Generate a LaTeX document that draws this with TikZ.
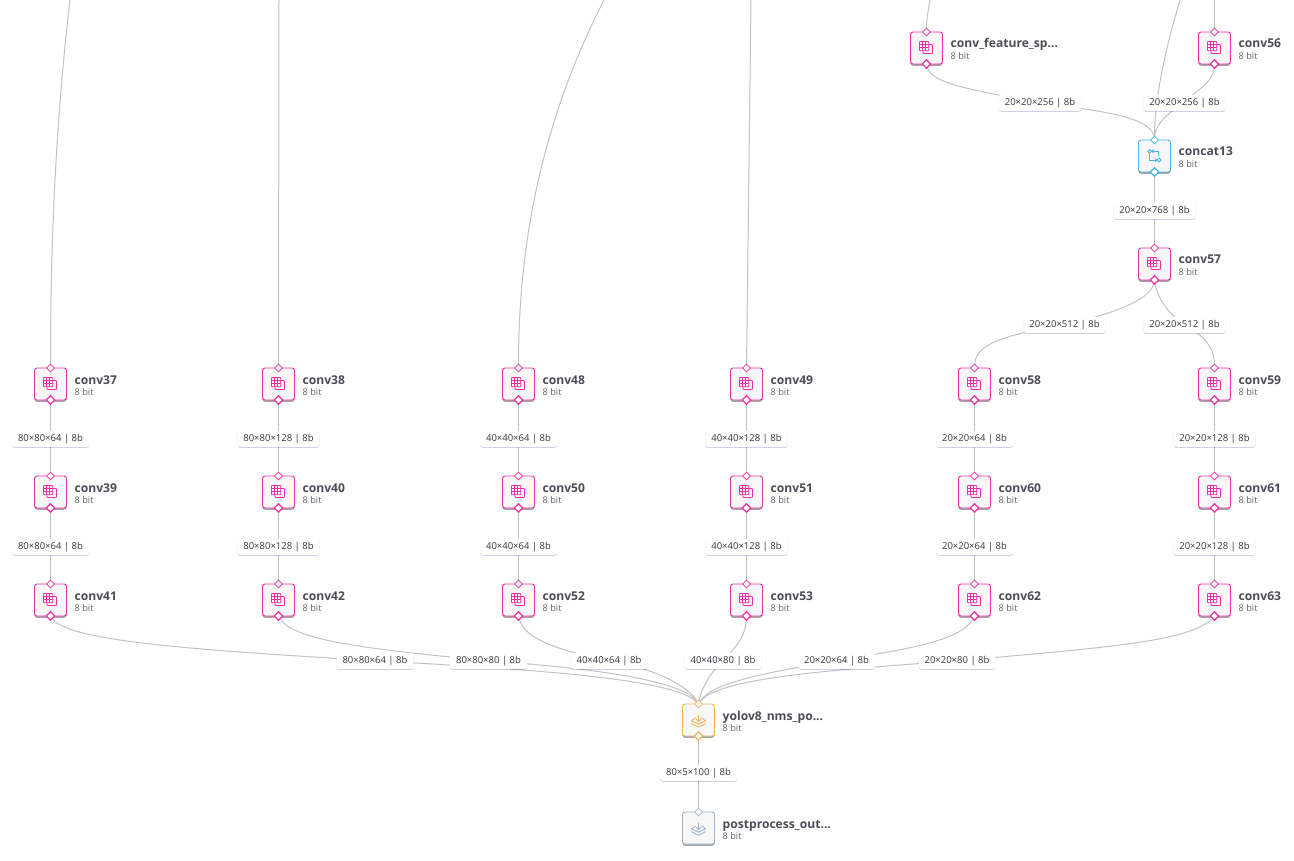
\documentclass[tikz,border=0pt]{standalone}
\usepackage{fontspec}
\setmainfont{Open Sans}
\usetikzlibrary{shapes.geometric,shadows,backgrounds}

\definecolor{convpink}{HTML}{EC2FA8}
\definecolor{concatblue}{HTML}{45B6E0}
\definecolor{nmsorange}{HTML}{F4B266}
\definecolor{outslate}{HTML}{9FB4D0}
\definecolor{wirecol}{HTML}{C2C2C2}
\definecolor{boxfill}{HTML}{F7F7F8}
\definecolor{nametext}{HTML}{4C4C56}
\definecolor{bittext}{HTML}{62626C}
\definecolor{dimtext}{HTML}{34343C}

\newcommand{\featname}{conv\_feature\_sp...}

\tikzset{
  unit/.style={draw=#1,fill=boxfill,line width=.9pt,rounded corners=2.5pt,minimum size=32pt,inner sep=0pt,
    drop shadow={shadow xshift=0pt,shadow yshift=-1.8pt,fill=black,opacity=.35}},
  port_in/.style={diamond,draw=#1,fill=white,line width=.8pt,minimum size=8pt,inner sep=0pt},
  port_out/.style={diamond,draw=#1,fill=white,line width=1.2pt,minimum size=9pt,inner sep=0pt},
  unit_name/.style={anchor=base west,inner sep=0pt,font=\fontsize{12.1}{13}\selectfont\bfseries,text=nametext},
  unit_bit/.style={anchor=west,inner sep=0pt,font=\fontsize{9.2}{10}\selectfont,text=bittext},
  dim/.style={fill=white,rounded corners=2.5pt,inner xsep=6pt,inner ysep=0pt,minimum height=16pt,yshift=-.8pt,
    font=\fontsize{9.5}{10}\selectfont,text=dimtext,
    drop shadow={shadow xshift=0pt,shadow yshift=-1pt,fill=black!60!blue,opacity=.18}},
  wire/.style={draw=wirecol,line width=1pt},
  convicon/.pic={
    \draw[convpink,line width=.8pt,rounded corners=.8pt] (-7,-6.5) rectangle (2.3,2.8);
    \draw[convpink,line width=.6pt] (-4,-6.5) -- (-4,2.8) (-1,-6.5) -- (-1,2.8) (-7,-3.5) -- (2.3,-3.5) (-7,-.5) -- (2.3,-.5);
    \draw[convpink,line width=.8pt,rounded corners=.8pt] (2.3,-3.5) -- (6,-3.5) -- (6,5.5) -- (-3.5,5.5) -- (-3.5,2.8);
  },
  concaticon/.pic={
    \draw[concatblue,line width=.9pt] (-4.8,-4.7) circle[radius=1.8] (4.6,4) circle[radius=1.8];
    \draw[concatblue,line width=.9pt] (-2.5,-4.7) -- (3.5,-4.7) -- (3.5,.5) (-4.8,-2.5) -- (-4.8,4) -- (2.3,4);
    \draw[concatblue,line width=.9pt] (-.8,-6.4) -- (-2.5,-4.7) -- (-.8,-3) (.6,2.3) -- (2.3,4) -- (.6,5.7);
  },
  layericon/.pic={
    \draw[#1,line width=.9pt] (0,-5.5) -- (0,1.5) (-2.2,-.8) -- (0,1.5) -- (2.2,-.8);
    \draw[#1,line width=.9pt] (-2.8,-2.2) -- (-7,.8) -- (0,4.2) -- (7,.8) -- (2.8,-2.2);
    \draw[#1,line width=.9pt] (-7,3.6) -- (0,7.2) -- (7,3.6);
  },
}

\begin{document}
\begin{tikzpicture}[x=1pt,y=-1pt]
  \useasboundingbox (0,0) rectangle (1294,861);

  % the conv units
  \foreach \Name/\Text/\X/\Y in {conva/conv37/50.5/384, convb/conv38/278.5/384, convc/conv48/518.5/384,
      convd/conv49/746.5/384, conve/conv58/974.5/384, convf/conv59/1214.5/384,
      convg/conv39/50.5/492, convh/conv40/278.5/492, convi/conv50/518.5/492,
      convj/conv51/746.5/492, convk/conv60/974.5/492, convl/conv61/1214.5/492,
      convm/conv41/50.5/600, convn/conv42/278.5/600, convo/conv52/518.5/600,
      convp/conv53/746.5/600, convq/conv62/974.5/600, convr/conv63/1214.5/600,
      convfeat/\featname/926.5/48, convs/conv56/1214.5/48, convt/conv57/1154.5/264}{
    \node[unit=convpink] (\Name) at (\X,\Y) {};
    \pic at (\X,\Y) {convicon};
    \node[port_in=convpink] (\Name_top) at (\X,\Y-16) {};
    \node[port_out=convpink] (\Name_bot) at (\X,\Y+16) {};
    \node[unit_name] (\Name_name) at (\X+24,\Y) {\Text};
    \node[unit_bit] (\Name_bit) at (\X+24,\Y+8) {8 bit};
  }

  % the other units
  \node[unit=concatblue] (concat) at (1154.5,156) {};
  \pic at (1154.5,156) {concaticon};
  \node[port_in=concatblue] (concat_top) at (1154.5,140) {};
  \node[port_out=concatblue] (concat_bot) at (1154.5,172) {};
  \node[unit_name] (concat_name) at (1178.5,156) {concat13};
  \node[unit_bit] (concat_bit) at (1178.5,164) {8 bit};

  \node[unit=nmsorange] (nms) at (698.5,720) {};
  \pic at (698.5,720) {layericon=nmsorange};
  \node[port_in=nmsorange] (nms_top) at (698.5,704) {};
  \node[port_out=nmsorange] (nms_bot) at (698.5,736) {};
  \node[unit_name] (nms_name) at (722.5,720) {yolov8\_nms\_po...};
  \node[unit_bit] (nms_bit) at (722.5,728) {8 bit};

  \node[unit=outslate] (post) at (698.5,828) {};
  \pic at (698.5,828) {layericon=outslate};
  \node[port_in=outslate] (post_top) at (698.5,812) {};
  \node[unit_name] (post_name) at (722.5,828) {postprocess\_out...};
  \node[unit_bit] (post_bit) at (722.5,836) {8 bit};

  % straight edges with their labels
  \foreach \From/\To/\X/\Y/\Text in {conva/convg/50.5/438/80×80×64, convg/convm/50.5/546/80×80×64,
      convb/convh/278.5/438/80×80×128, convh/convn/278.5/546/80×80×128,
      convc/convi/518.5/438/40×40×64, convi/convo/518.5/546/40×40×64,
      convd/convj/746.5/438/40×40×128, convj/convp/746.5/546/40×40×128,
      conve/convk/974.5/438/20×20×64, convk/convq/974.5/546/20×20×64,
      convf/convl/1214.5/438/20×20×128, convl/convr/1214.5/546/20×20×128,
      concat/convt/1154.5/210/20×20×768, nms/post/698.5/772/80×5×100}{
    \node[dim] (\From_dim) at (\X,\Y) {\Text{} | 8b};
    \begin{pgfonlayer}{background}
      \draw[wire] (\From_bot) -- (\To_top);
    \end{pgfonlayer}
  }

  % labels on the curved edges
  \node[dim] (featdim) at (1040,102) {20×20×256 | 8b};
  \node[dim] (sdim) at (1184.5,102) {20×20×256 | 8b};
  \node[dim] (tedim) at (1064.5,324) {20×20×512 | 8b};
  \node[dim] (tfdim) at (1184.5,324) {20×20×512 | 8b};
  \node[dim] (mdim) at (375,660) {80×80×64 | 8b};
  \node[dim] (ndim) at (488.5,660) {80×80×80 | 8b};
  \node[dim] (odim) at (609,660) {40×40×64 | 8b};
  \node[dim] (pdim) at (723,660) {40×40×80 | 8b};
  \node[dim] (qdim) at (836.5,660) {20×20×64 | 8b};
  \node[dim] (rdim) at (957,660) {20×20×80 | 8b};

  % free ends above the page
  \coordinate (enda) at (70,0);
  \coordinate (endb) at (279,0);
  \coordinate (endc) at (604,0);
  \coordinate (endd) at (751,0);
  \coordinate (endfeat) at (930,0);
  \coordinate (endconcat) at (1180,0);
  \coordinate (ends) at (1214.5,0);

  \begin{pgfonlayer}{background}
    \draw[wire] (enda) .. controls (56,120) and (50.5,240) .. (conva_top);
    \draw[wire] (endb) -- (convb_top);
    \draw[wire] (endc) .. controls (545,115) and (518.5,235) .. (convc_top);
    \draw[wire] (endd) -- (convd_top);
    \draw[wire] (endfeat) .. controls (928,12) and (926.5,20) .. (convfeat_top);
    \draw[wire] (ends) -- (convs_top);
    \draw[wire] (endconcat) .. controls (1165,50) and (1154.5,100) .. (concat_top);

    \draw[wire] (convfeat_bot) .. controls (932,85) and (985,92) .. (featdim.center)
       .. controls (1090,110) and (1150,115) .. (concat_top);
    \draw[wire] (convs_bot) .. controls (1212,85) and (1195,90) .. (sdim.center)
       .. controls (1170,112) and (1156,122) .. (concat_top);

    \draw[wire] (convt_bot) .. controls (1150,300) and (1110,315) .. (tedim.center)
       .. controls (1020,333) and (976,340) .. (conve_top);
    \draw[wire] (convt_bot) .. controls (1158,300) and (1170,315) .. (tfdim.center)
       .. controls (1200,333) and (1214,345) .. (convf_top);

    \draw[wire] (convm_bot) .. controls (70,642) and (200,650) .. (mdim.center)
       .. controls (550,670) and (675,680) .. (nms_top);
    \draw[wire] (convn_bot) .. controls (295,642) and (380,650) .. (ndim.center)
       .. controls (590,668) and (682,680) .. (nms_top);
    \draw[wire] (convo_bot) .. controls (525,640) and (565,652) .. (odim.center)
       .. controls (650,667) and (688,685) .. (nms_top);
    \draw[wire] (convp_bot) .. controls (745,640) and (732,650) .. (pdim.center)
       .. controls (710,672) and (701,690) .. (nms_top);
    \draw[wire] (convq_bot) .. controls (960,642) and (900,650) .. (qdim.center)
       .. controls (770,672) and (712,682) .. (nms_top);
    \draw[wire] (convr_bot) .. controls (1190,642) and (1100,648) .. (rdim.center)
       .. controls (830,670) and (718,678) .. (nms_top);
  \end{pgfonlayer}
\end{tikzpicture}
\end{document}
